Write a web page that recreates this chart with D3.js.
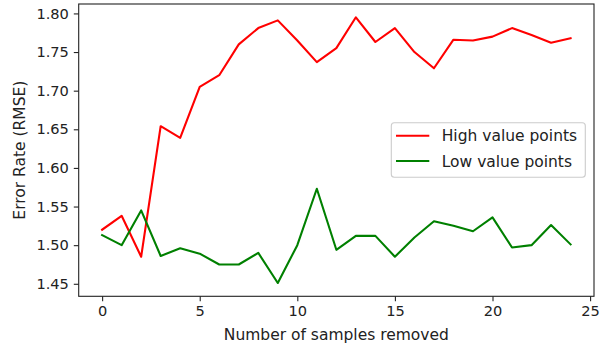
<!DOCTYPE html>
<html><head><meta charset="utf-8">
<script src="https://cdn.jsdelivr.net/npm/d3@7"></script>
<style>body{margin:0;background:#fff;}svg{display:block;font-family:"DejaVu Sans",sans-serif;}</style>
</head><body><svg id="c" width="603" height="347"></svg>
<script>
const samplesRemoved = d3.range(0, 25);
const highValue = [1.520,1.538,1.485,1.654,1.639,1.705,1.720,1.760,1.781,1.791,1.765,1.737,1.755,1.795,1.763,1.781,1.750,1.729,1.766,1.765,1.770,1.781,1.772,1.762,1.768];
const lowValue = [1.513,1.500,1.545,1.486,1.496,1.489,1.475,1.475,1.490,1.451,1.500,1.573,1.494,1.512,1.512,1.485,1.510,1.531,1.525,1.518,1.536,1.497,1.500,1.526,1.501];
const xTicks = [0,5,10,15,20,25];
const yTicks = [1.45,1.50,1.55,1.60,1.65,1.70,1.75,1.80];
const seriesNames = ["High value points","Low value points"];
const seriesColors = ["#ff0000","#008000"];

const svg = d3.select("#c");
const L = 78.7, R = 594, T = 4, B = 296.3;
const x = d3.scaleLinear().domain([-1.2, 25.2]).range([L, R]);
const all = highValue.concat(lowValue);
const mn = d3.min(all), mx = d3.max(all), pad = (mx - mn) * 0.05;
const y = d3.scaleLinear().domain([mn - pad, mx + pad]).range([B, T]);
const tfs = 14.6, fs = 15.5, tc = "#222";

const xa = svg.append("g").attr("transform", `translate(0,${B})`)
  .call(d3.axisBottom(x).tickValues(xTicks).tickFormat(d3.format("d")).tickSize(4.9).tickPadding(4.9));
const ya = svg.append("g").attr("transform", `translate(${L},0)`)
  .call(d3.axisLeft(y).tickValues(yTicks).tickFormat(d3.format(".2f")).tickSize(4.9).tickPadding(4.9));
[xa, ya].forEach(a => {
  a.select(".domain").remove();
  a.selectAll("line").attr("stroke", tc).attr("stroke-width", 1.1);
  a.selectAll("text").attr("fill", tc).attr("font-size", tfs).attr("font-family", "DejaVu Sans");
});

const line = d3.line().x((d, i) => x(samplesRemoved[i])).y(d => y(d));
[highValue, lowValue].forEach((s, k) => {
  svg.append("path").datum(s).attr("d", line).attr("fill", "none")
    .attr("stroke", seriesColors[k]).attr("stroke-width", 2.1).attr("stroke-linejoin", "round").attr("stroke-linecap", "square");
});

svg.append("rect").attr("x", L).attr("y", T).attr("width", R - L).attr("height", B - T)
  .attr("fill", "none").attr("stroke", tc).attr("stroke-width", 1.1);

svg.append("text").attr("x", (L + R) / 2).attr("y", 339.5).attr("text-anchor", "middle")
  .attr("font-size", fs).attr("fill", tc).text("Number of samples removed");
svg.append("text").attr("transform", `translate(25,${(T + B) / 2}) rotate(-90)`).attr("text-anchor", "middle")
  .attr("font-size", fs).attr("fill", tc).text("Error Rate (RMSE)");

const lg = svg.append("g");
lg.append("rect").attr("x", 391.3).attr("y", 122.7).attr("width", 194).attr("height", 54.6).attr("rx", 3)
  .attr("fill", "#fff").attr("fill-opacity", 0.8).attr("stroke", "#ccc").attr("stroke-width", 1.1);
seriesNames.forEach((n, k) => {
  const cy = 135.7 + k * 25.3;
  lg.append("line").attr("x1", 396).attr("x2", 429.3).attr("y1", cy).attr("y2", cy)
    .attr("stroke", seriesColors[k]).attr("stroke-width", 2.1);
  lg.append("text").attr("x", 441.7).attr("y", cy).attr("dy", "0.36em")
    .attr("font-size", fs).attr("fill", tc).text(n);
});
</script></body></html>
